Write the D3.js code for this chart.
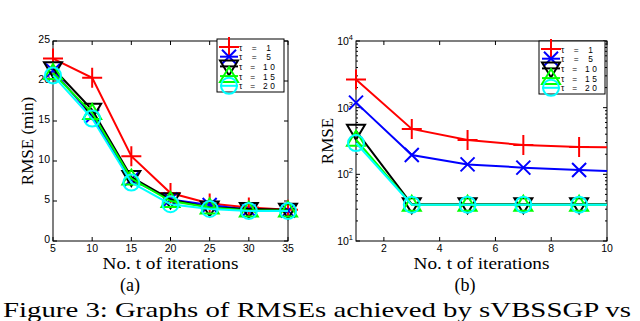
<!DOCTYPE html>
<html>
<head>
<meta charset="utf-8">
<script src="https://cdn.jsdelivr.net/npm/d3@7"></script>
<style>
  body { margin: 0; background: #fff; }
  svg { display: block; }
</style>
</head>
<body>
<svg id="fig" width="640" height="321"></svg>
<script>
// panel (a): linear RMSE vs iterations
const itersA = [5, 10, 15, 20, 25, 30, 35];
const rmseA_tau1 = [22.8, 20.4, 10.6, 6.0, 4.7, 4.2, 3.9];
const rmseA_tau5 = [21.3, 15.6, 7.7, 5.2, 4.5, 3.9, 3.8];
const rmseA_tau10 = [21.6, 16.4, 8.0, 5.2, 4.2, 4.0, 3.9];
const rmseA_tau15 = [21.0, 16.0, 7.8, 5.0, 4.2, 3.8, 3.8];
const rmseA_tau20 = [20.7, 15.3, 7.3, 4.6, 4.0, 3.75, 3.75];

// panel (b): log RMSE vs iterations
const itersB = [1, 3, 5, 7, 9, 10];
const rmseB_tau1 = [2650, 480, 327, 275, 258, 254];
const rmseB_tau5 = [1190, 195, 141, 126, 116, 112];
const rmseB_tau10 = [450, 35.5, 35.5, 35.5, 35.5, 35.5];
const rmseB_tau15 = [330, 35, 35, 35, 35, 35];
const rmseB_tau20 = [295, 35, 35, 35, 35, 35];

const tauLabels = ['τ = 1', 'τ = 5', 'τ = 10', 'τ = 15', 'τ = 20'];
const ticksA_x = [5, 10, 15, 20, 25, 30, 35];
const ticksA_y = [0, 5, 10, 15, 20, 25];
const ticksB_x = [2, 4, 6, 8, 10];
const ticksB_y = [10, 100, 1000, 10000];

const styles = [
  { color: '#ff0000', marker: 'plus' },
  { color: '#0000ff', marker: 'cross' },
  { color: '#000000', marker: 'tridown' },
  { color: '#00ff00', marker: 'triup' },
  { color: '#00ffff', marker: 'circle' }
];

const svg = d3.select('#fig');
const serif = '"Liberation Serif", "DejaVu Serif", serif';
const sans = '"Liberation Sans", Arial, sans-serif';

function drawMarker(g, type, x, y, color) {
  const m = g.append('g').attr('transform', `translate(${x},${y})`)
    .attr('fill', 'none').attr('stroke', color).attr('stroke-width', 2);
  if (type === 'plus') {
    m.append('path').attr('d', 'M-10,0H10M0,-10V10');
  } else if (type === 'cross') {
    m.append('path').attr('d', 'M-7,-7L7,7M-7,7L7,-7');
  } else if (type === 'tridown') {
    m.append('path').attr('d', 'M-9,-6L9,-6L0,9Z');
  } else if (type === 'triup') {
    m.append('path').attr('d', 'M0,-9L9,6L-9,6Z');
  } else {
    m.append('circle').attr('r', 8);
  }
}

function drawPanel(opt) {
  const { left, right, top, bottom } = opt.box;
  const x = d3.scaleLinear().domain(opt.xDomain).range([left, right]);
  const y = (opt.log ? d3.scaleLog() : d3.scaleLinear()).domain(opt.yDomain).range([bottom, top]);
  const g = svg.append('g');

  // box
  g.append('rect').attr('x', left).attr('y', top)
    .attr('width', right - left).attr('height', bottom - top)
    .attr('fill', 'none').attr('stroke', '#000').attr('stroke-width', 1);

  // ticks inward on all sides
  const tk = g.append('g').attr('stroke', '#000').attr('stroke-width', 1);
  opt.xTicks.forEach(t => {
    tk.append('line').attr('x1', x(t)).attr('x2', x(t)).attr('y1', bottom).attr('y2', bottom - 4);
    tk.append('line').attr('x1', x(t)).attr('x2', x(t)).attr('y1', top).attr('y2', top + 4);
    g.append('text').attr('x', x(t)).attr('y', bottom + 10.5)
      .attr('text-anchor', 'middle').attr('font-family', sans).attr('font-size', 10.5)
      .text(t);
  });
  opt.yTicks.forEach(t => {
    tk.append('line').attr('x1', left).attr('x2', left + 4).attr('y1', y(t)).attr('y2', y(t));
    tk.append('line').attr('x1', right).attr('x2', right - 4).attr('y1', y(t)).attr('y2', y(t));
    if (opt.log) {
      const lab = g.append('text').attr('x', left - 3).attr('y', y(t) + 4)
        .attr('text-anchor', 'end').attr('font-family', sans).attr('font-size', 10.5);
      lab.append('tspan').text('10');
      lab.append('tspan').attr('dy', -5).attr('font-size', 7.5).text(Math.round(Math.log10(t)));
    } else {
      g.append('text').attr('x', left - 3).attr('y', y(t) + 2)
        .attr('text-anchor', 'end').attr('font-family', sans).attr('font-size', 10.5).text(t);
    }
  });
  if (opt.log) {
    // minor ticks
    for (let e = 1; e < 4; e++) {
      for (let k = 2; k < 10; k++) {
        const v = k * Math.pow(10, e);
        tk.append('line').attr('x1', left).attr('x2', left + 2).attr('y1', y(v)).attr('y2', y(v));
        tk.append('line').attr('x1', right).attr('x2', right - 2).attr('y1', y(v)).attr('y2', y(v));
      }
    }
  }

  // series
  const line = d3.line().x(d => x(d[0])).y(d => y(d[1]));
  opt.series.forEach((s, i) => {
    const pts = opt.xs.map((v, j) => [v, s[j]]);
    g.append('path').datum(pts).attr('d', line)
      .attr('fill', 'none').attr('stroke', styles[i].color).attr('stroke-width', 2);
    pts.filter(p => opt.markerAt(p[0])).forEach(p =>
      drawMarker(g, styles[i].marker, x(p[0]), y(p[1]), styles[i].color));
  });

  // axis labels
  g.append('text').attr('x', (left + right) / 2).attr('y', bottom + 27.5)
    .attr('text-anchor', 'middle').attr('font-family', serif).attr('font-size', 16.5)
    .attr('textLength', 136).attr('lengthAdjust', 'spacingAndGlyphs')
    .text('No. t of iterations');
  g.append('text')
    .attr('transform', `translate(${opt.yLabelX},${(top + bottom) / 2}) rotate(-90)`)
    .attr('text-anchor', 'middle').attr('font-family', serif).attr('font-size', 17)
    .text(opt.yLabel);

  // legend
  const L = opt.legend;
  const lg = g.append('g');
  lg.append('rect').attr('x', L.x).attr('y', L.y).attr('width', L.w).attr('height', L.h)
    .attr('fill', '#fff').attr('stroke', '#000').attr('stroke-width', 1);
  tauLabels.forEach((lab, i) => {
    const ry = L.y + 8 + i * 9.7;
    lg.append('line').attr('x1', L.x + 3).attr('x2', L.x + 21).attr('y1', ry).attr('y2', ry)
      .attr('stroke', styles[i].color).attr('stroke-width', 2);
    drawMarker(lg, styles[i].marker, L.x + 12, ry, styles[i].color);
  });
  tauLabels.forEach((lab, i) => {
    const ry = L.y + 8 + i * 9.7;
    lg.append('text').attr('x', L.x + 22).attr('y', ry + 3.5)
      .attr('font-family', sans).attr('font-size', 8.4)
      .attr('textLength', lab.length > 5 ? 36 : 32).attr('lengthAdjust', 'spacing')
      .text(lab);
  });
}

drawPanel({
  box: { left: 53, right: 288, top: 41, bottom: 241 },
  xDomain: [5, 35], yDomain: [0, 25], log: false,
  xTicks: ticksA_x, yTicks: ticksA_y,
  xs: itersA,
  series: [rmseA_tau1, rmseA_tau5, rmseA_tau10, rmseA_tau15, rmseA_tau20],
  markerAt: () => true,
  yLabel: 'RMSE (min)', yLabelX: 33,
  legend: { x: 217, y: 39, w: 67, h: 53 }
});

drawPanel({
  box: { left: 356, right: 607, top: 41, bottom: 241 },
  xDomain: [1, 10], yDomain: [10, 10000], log: true,
  xTicks: ticksB_x, yTicks: ticksB_y,
  xs: itersB,
  series: [rmseB_tau1, rmseB_tau5, rmseB_tau10, rmseB_tau15, rmseB_tau20],
  markerAt: v => v % 2 === 1,
  yLabel: 'RMSE', yLabelX: 333,
  legend: { x: 539, y: 41, w: 66, h: 53 }
});

// caption
svg.append('text').attr('x', 130).attr('y', 290.5).attr('text-anchor', 'middle')
  .attr('font-family', serif).attr('font-size', 18).text('(a)');
svg.append('text').attr('x', 465).attr('y', 290.5).attr('text-anchor', 'middle')
  .attr('font-family', serif).attr('font-size', 18).text('(b)');
svg.append('text').attr('x', 3).attr('y', 317)
  .attr('font-family', serif).attr('font-size', 22)
  .attr('textLength', 628).attr('lengthAdjust', 'spacingAndGlyphs')
  .text('Figure 3: Graphs of RMSEs achieved by sVBSSGP vs');
</script>
</body>
</html>
